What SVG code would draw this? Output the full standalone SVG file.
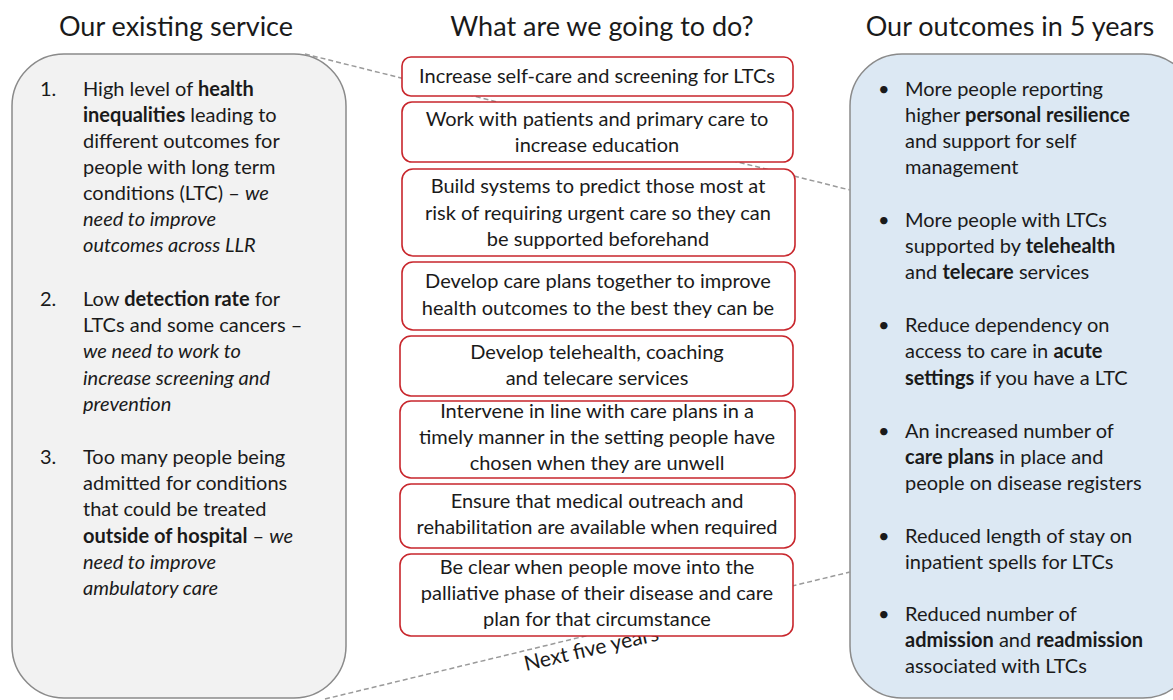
<svg xmlns="http://www.w3.org/2000/svg" width="1173" height="700" viewBox="0 0 1173 700">
<style>
text{font-family:Lato,"Liberation Sans",sans-serif;fill:#1a1a1a}
.h{font-size:27px;text-anchor:middle}
.t{font-size:20px}
.c{font-size:20px;text-anchor:middle}
.b{font-weight:bold}
.i{font-style:italic}
.box{fill:#fff;stroke:#c8262c;stroke-width:1.6}
.panel{stroke:#8a8a8a;stroke-width:1.5}
.dash{stroke:#9a9a9a;stroke-width:1.5;stroke-dasharray:5 3;fill:none}
</style>
<rect width="1173" height="700" fill="#fff"/>
<g id="headers">
<text class="h" x="176" y="36">Our existing service</text>
<text class="h" x="602" y="36">What are we going to do?</text>
<text class="h" x="1010" y="36">Our outcomes in 5 years</text>
</g>
<g id="left-panel">
<rect class="panel" x="12" y="54" width="334" height="644" rx="52" fill="#f2f2f2"/>
<g>
<text class="t" x="40" y="96">1.</text>
<text class="t" x="83" y="96">High level of <tspan class="b">health</tspan></text>
<text class="t" x="83" y="122"><tspan class="b">inequalities</tspan> leading to</text>
<text class="t" x="83" y="148">different outcomes for</text>
<text class="t" x="83" y="174">people with long term</text>
<text class="t" x="83" y="200">conditions (LTC) – <tspan class="i">we</tspan></text>
<text class="t i" x="83" y="226">need to improve</text>
<text class="t i" x="83" y="252">outcomes across LLR</text>
<text class="t" x="40" y="306">2.</text>
<text class="t" x="83" y="306">Low <tspan class="b">detection rate</tspan> for</text>
<text class="t" x="83" y="332">LTCs and some cancers –</text>
<text class="t i" x="83" y="358">we need to work to</text>
<text class="t i" x="83" y="385">increase screening and</text>
<text class="t i" x="83" y="411">prevention</text>
<text class="t" x="40" y="464">3.</text>
<text class="t" x="83" y="464">Too many people being</text>
<text class="t" x="83" y="490">admitted for conditions</text>
<text class="t" x="83" y="516">that could be treated</text>
<text class="t" x="83" y="543"><tspan class="b">outside of hospital</tspan> – <tspan class="i">we</tspan></text>
<text class="t i" x="83" y="569">need to improve</text>
<text class="t i" x="83" y="595">ambulatory care</text>
</g>
</g>
<g id="right-panel">
<rect class="panel" x="850" y="54" width="345" height="644" rx="52" fill="#dce8f3"/>
<g>
<text class="t" x="878" y="96">•</text>
<text class="t" x="905" y="96">More people reporting</text>
<text class="t" x="905" y="122">higher <tspan class="b">personal resilience</tspan></text>
<text class="t" x="905" y="148">and support for self</text>
<text class="t" x="905" y="174">management</text>
<text class="t" x="878" y="227">•</text>
<text class="t" x="905" y="227">More people with LTCs</text>
<text class="t" x="905" y="253">supported by <tspan class="b">telehealth</tspan></text>
<text class="t" x="905" y="279">and <tspan class="b">telecare</tspan> services</text>
<text class="t" x="878" y="332">•</text>
<text class="t" x="905" y="332">Reduce dependency on</text>
<text class="t" x="905" y="358">access to care in <tspan class="b">acute</tspan></text>
<text class="t" x="905" y="385"><tspan class="b">settings</tspan> if you have a LTC</text>
<text class="t" x="878" y="438">•</text>
<text class="t" x="905" y="438">An increased number of</text>
<text class="t" x="905" y="464"><tspan class="b">care plans</tspan> in place and</text>
<text class="t" x="905" y="490">people on disease registers</text>
<text class="t" x="878" y="543">•</text>
<text class="t" x="905" y="543">Reduced length of stay on</text>
<text class="t" x="905" y="569">inpatient spells for LTCs</text>
<text class="t" x="878" y="621">•</text>
<text class="t" x="905" y="621">Reduced number of</text>
<text class="t" x="905" y="647"><tspan class="b">admission</tspan> and <tspan class="b">readmission</tspan></text>
<text class="t" x="905" y="673">associated with LTCs</text>
</g>
</g>
<g id="connectors">
<line class="dash" x1="305" y1="54" x2="850" y2="190"/>
<line class="dash" x1="325" y1="699" x2="850" y2="572"/>
<text x="526" y="671" font-size="21" fill="#333" transform="rotate(-13 526 671)">Next five years</text>
</g>
<g id="box1"><rect class="box" x="402" y="57" width="391" height="39" rx="9"/>
<text class="c" x="597" y="83">Increase self-care and screening for LTCs</text></g>
<g id="box2"><rect class="box" x="402" y="102" width="391" height="60" rx="10"/>
<text class="c" x="597" y="126">Work with patients and primary care to</text>
<text class="c" x="597" y="152">increase education</text></g>
<g id="box3"><rect class="box" x="402" y="169" width="393" height="87" rx="11"/>
<text class="c" x="598" y="193">Build systems to predict those most at</text>
<text class="c" x="598" y="220">risk of requiring urgent care so they can</text>
<text class="c" x="598" y="246">be supported beforehand</text></g>
<g id="box4"><rect class="box" x="402" y="262" width="393" height="68" rx="11"/>
<text class="c" x="598" y="288">Develop care plans together to improve</text>
<text class="c" x="598" y="315">health outcomes to the best they can be</text></g>
<g id="box5"><rect class="box" x="400" y="336" width="393" height="60" rx="11"/>
<text class="c" x="597" y="359">Develop telehealth, coaching</text>
<text class="c" x="597" y="385">and telecare services</text></g>
<g id="box6"><rect class="box" x="400" y="401" width="395" height="77" rx="11"/>
<text class="c" x="597" y="418">Intervene in line with care plans in a</text>
<text class="c" x="597" y="444">timely manner in the setting people have</text>
<text class="c" x="597" y="470">chosen when they are unwell</text></g>
<g id="box7"><rect class="box" x="400" y="484" width="395" height="64" rx="11"/>
<text class="c" x="597" y="508">Ensure that medical outreach and</text>
<text class="c" x="597" y="534">rehabilitation are available when required</text></g>
<g id="box8"><rect class="box" x="400" y="554" width="393" height="82" rx="11"/>
<text class="c" x="597" y="574">Be clear when people move into the</text>
<text class="c" x="597" y="600">palliative phase of their disease and care</text>
<text class="c" x="597" y="626">plan for that circumstance</text></g>
</svg>
